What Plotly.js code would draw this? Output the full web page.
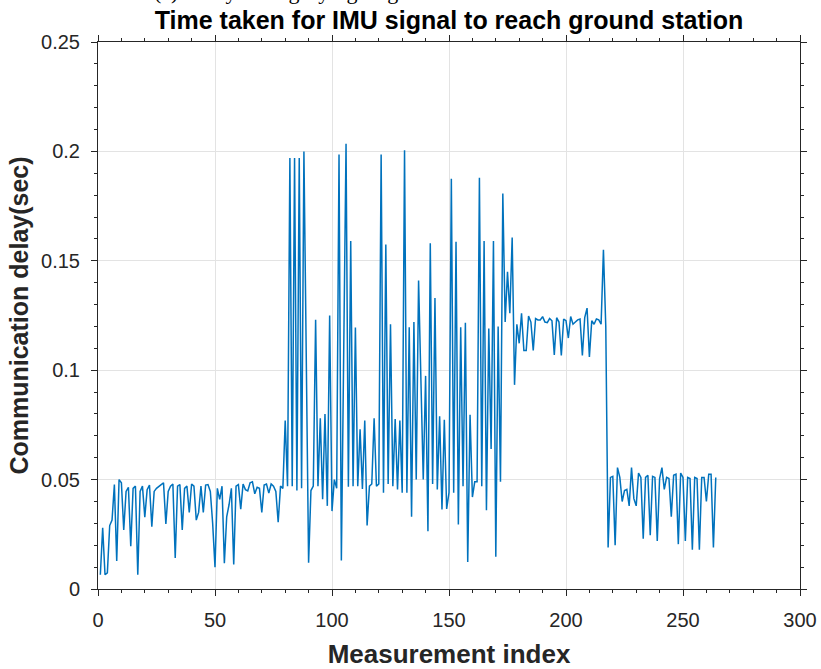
<!DOCTYPE html>
<html>
<head>
<meta charset="utf-8">
<script src="https://cdn.plot.ly/plotly-3.0.1.min.js"></script>
<style>html,body{margin:0;padding:0;background:#fff;}#chart{width:821px;height:669px;}</style>
</head>
<body>
<div id="chart"></div>
<script>
const chartTitle = 'Time taken for IMU signal to reach ground station';
const xLabel = 'Measurement index';
const yLabel = 'Communication delay(sec)';
const captionFragment = '(c) Delay during flying stage';
const firstIndex = 1;
const xTickVals = [0, 50, 100, 150, 200, 250, 300];
const yTickVals = [0, 0.05, 0.1, 0.15, 0.2, 0.25];

// measurement 1..80 : before take-off
const delayGround = [
  0.0065, 0.028, 0.0065, 0.0074, 0.029, 0.0315, 0.0477, 0.0128, 0.050, 0.0485,
  0.027, 0.0446, 0.0465, 0.0195, 0.046, 0.047, 0.0065, 0.0446, 0.047, 0.0328,
  0.0454, 0.0475, 0.0285, 0.0446, 0.046, 0.047, 0.0477, 0.0485, 0.0297, 0.0446,
  0.047, 0.048, 0.0142, 0.047, 0.0477, 0.027, 0.046, 0.047, 0.035, 0.048,
  0.047, 0.0315, 0.035, 0.047, 0.035, 0.0475, 0.0477, 0.0446, 0.030, 0.010,
  0.046, 0.041, 0.047, 0.0118, 0.033, 0.0385, 0.046, 0.0112, 0.047, 0.0477,
  0.0365, 0.048, 0.0454, 0.0448, 0.0485, 0.049, 0.0435, 0.0465, 0.046, 0.035,
  0.0475, 0.048, 0.0438, 0.048, 0.047, 0.0446, 0.0305, 0.047, 0.046, 0.077
];
// measurement 81..177 : flight, bursty
const delayFlight = [
  0.047, 0.197, 0.047, 0.197, 0.045, 0.197, 0.046, 0.200, 0.106, 0.012,
  0.045, 0.047, 0.123, 0.047, 0.078, 0.041, 0.080, 0.038, 0.125, 0.0356,
  0.050, 0.046, 0.1986, 0.013, 0.108, 0.2035, 0.0467, 0.159, 0.047, 0.1195,
  0.047, 0.073, 0.0457, 0.077, 0.029, 0.047, 0.048, 0.078, 0.047, 0.048,
  0.1986, 0.044, 0.1575, 0.048, 0.121, 0.047, 0.0777, 0.0455, 0.077, 0.044,
  0.2005, 0.044, 0.1196, 0.033, 0.122, 0.050, 0.141, 0.095, 0.050, 0.0974,
  0.0264, 0.158, 0.048, 0.133, 0.0455, 0.079, 0.0363, 0.0774, 0.0366, 0.044,
  0.1875, 0.044, 0.1587, 0.0295, 0.1196, 0.047, 0.1217, 0.0123, 0.0796, 0.042,
  0.049, 0.049, 0.188, 0.047, 0.159, 0.036, 0.119, 0.064, 0.159, 0.0147,
  0.120, 0.049, 0.1807, 0.122, 0.145, 0.126, 0.1606
];
// measurement 178..217 : plateau
const delayPlateau = [
  0.0933, 0.121, 0.1123, 0.126, 0.109, 0.109, 0.1248, 0.122, 0.109, 0.1236,
  0.123, 0.123, 0.1245, 0.122, 0.1217, 0.1236, 0.1226, 0.107, 0.124, 0.122,
  0.1067, 0.1234, 0.1226, 0.1147, 0.1245, 0.121, 0.122, 0.123, 0.1234, 0.1067,
  0.124, 0.1284, 0.106, 0.1226, 0.121, 0.1234, 0.123, 0.121, 0.155, 0.120
];
// measurement 218..264 : after landing
const delayLanded = [
  0.019, 0.051, 0.0515, 0.020, 0.0555, 0.051, 0.040, 0.045, 0.0455, 0.038,
  0.0555, 0.0413, 0.038, 0.053, 0.051, 0.023, 0.051, 0.052, 0.0246, 0.0515,
  0.051, 0.022, 0.0505, 0.0555, 0.0455, 0.051, 0.0505, 0.033, 0.052, 0.0525,
  0.0205, 0.053, 0.051, 0.022, 0.051, 0.0505, 0.018, 0.051, 0.0505, 0.018,
  0.051, 0.051, 0.040, 0.0525, 0.0525, 0.019, 0.051
];

const delay = delayGround.concat(delayFlight, delayPlateau, delayLanded);

const axisColor = '#262626';
const gridColor = '#e3e3e3';
const fontFam = 'Liberation Sans, Arial, Helvetica, sans-serif';

const trace = {
  type: 'scatter',
  mode: 'lines',
  x0: firstIndex,
  dx: 1,
  y: delay,
  line: {color: '#0072BD', width: 1.5},
  hoverinfo: 'x+y'
};

const commonAxis = {
  showgrid: true,
  gridcolor: gridColor,
  gridwidth: 1,
  showline: true,
  linecolor: axisColor,
  linewidth: 1,
  mirror: 'allticks',
  ticks: 'outside',
  ticklen: 6,
  tickwidth: 1,
  tickcolor: axisColor,
  zeroline: false,
  tickfont: {family: fontFam, size: 20, color: axisColor},
  tickmode: 'array'
};

const layout = {
  width: 821,
  height: 669,
  margin: {l: 98, r: 21, t: 42, b: 80},
  paper_bgcolor: '#ffffff',
  plot_bgcolor: '#ffffff',
  showlegend: false,
  title: {
    text: chartTitle,
    font: {family: fontFam, size: 25, color: '#000000', weight: 'bold'},
    x: 0.5, xref: 'paper', xanchor: 'center',
    y: 1 - 20 / 669, yref: 'container', yanchor: 'middle'
  },
  xaxis: Object.assign({}, commonAxis, {
    range: [0, 300],
    tickvals: xTickVals,
    ticklabelstandoff: 7,
    minor: {dtick: 10, tick0: 0, ticks: 'outside', ticklen: 3, tickcolor: axisColor, showgrid: false},
    title: {text: xLabel, standoff: 14, font: {family: fontFam, size: 26, color: '#262626', weight: 'bold'}}
  }),
  yaxis: Object.assign({}, commonAxis, {
    range: [0, 0.25],
    tickvals: yTickVals,
    ticktext: yTickVals.map(v => String(v)),
    ticklabelstandoff: 7,
    minor: {dtick: 0.01, tick0: 0, ticks: 'outside', ticklen: 3, tickcolor: axisColor, showgrid: false},
    title: {text: yLabel, standoff: 5, font: {family: fontFam, size: 25, color: '#262626', weight: 'bold'}}
  }),
  annotations: [{
    text: captionFragment,
    xref: 'paper', yref: 'paper',
    x: (152 - 98) / 702, xanchor: 'left',
    y: (589 - 6) / 547, yanchor: 'bottom',
    showarrow: false,
    font: {family: 'Liberation Serif, DejaVu Serif, serif', size: 22, color: '#000000'}
  }]
};

Plotly.newPlot('chart', [trace], layout, {displayModeBar: false, staticPlot: true});
</script>
</body>
</html>
